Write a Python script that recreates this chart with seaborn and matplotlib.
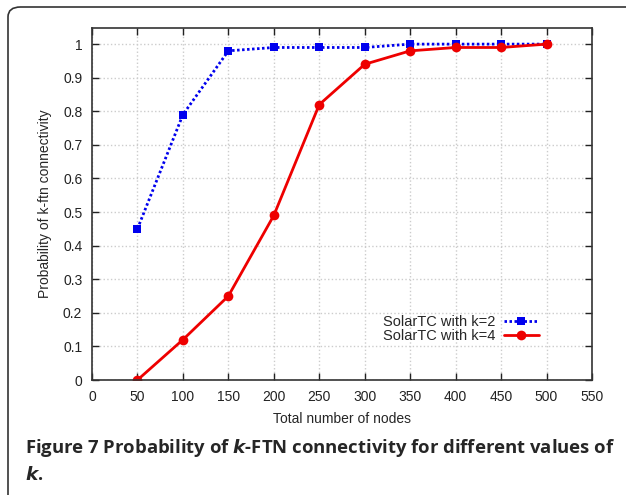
import numpy as np
import pandas as pd
import matplotlib
matplotlib.use("Agg")
import matplotlib.pyplot as plt
import seaborn as sns
from matplotlib.patches import FancyBboxPatch

# data
nodes = [50, 100, 150, 200, 250, 300, 350, 400, 450, 500]
prob_k2 = [0.45, 0.79, 0.98, 0.99, 0.99, 0.99, 1.0, 1.0, 1.0, 1.0]
prob_k4 = [0.0, 0.12, 0.25, 0.49, 0.82, 0.94, 0.98, 0.99, 0.99, 1.0]
labels = ["SolarTC with k=2", "SolarTC with k=4"]

sns.set_style("ticks")
plt.rcParams['font.family'] = ['Liberation Sans', 'DejaVu Sans']

fig = plt.figure(figsize=(6.26, 4.95), dpi=100)

# rounded frame around figure (cut by right/bottom edges)
frame = FancyBboxPatch((8 / 626, -0.2), 1.2, 1.0 + 0.2 - 7 / 495,
                       boxstyle="round,pad=0,rounding_size=0.02",
                       transform=fig.transFigure, fill=False,
                       edgecolor="#333333", linewidth=1.2, clip_on=False)
fig.patches.append(frame)

ax = fig.add_axes([92 / 626, 1 - 380 / 495, 500 / 626, 352 / 495])

df = pd.DataFrame({"nodes": nodes, "k2": prob_k2, "k4": prob_k4})
sns.lineplot(data=df, x="nodes", y="k2", ax=ax, color="#0000ee",
             linestyle=(0, (0.9, 0.9)), linewidth=2.0, marker="s",
             markersize=6, markeredgewidth=0, label=labels[0])
sns.lineplot(data=df, x="nodes", y="k4", ax=ax, color="#ee0000", linestyle="-",
             linewidth=2, marker="o", markersize=7, markeredgewidth=0,
             label=labels[1])

ax.set_xlim(0, 550)
ax.set_ylim(0, 1.048)
ax.set_xticks(np.arange(0, 551, 50))
ax.set_yticks(np.arange(0, 1.01, 0.1))
ax.set_yticklabels(["0", "0.1", "0.2", "0.3", "0.4", "0.5", "0.6", "0.7", "0.8", "0.9", "1"])
ax.tick_params(direction="in", top=True, right=True, length=5, width=1,
               labelsize=10, colors="#222222", pad=7)
ax.grid(True, color="#cccccc", linestyle=":", linewidth=1)
for s in ax.spines.values():
    s.set_color("#333333")
    s.set_linewidth(1.2)
ax.set_xlabel("Total number of nodes", fontsize=10, labelpad=6)
ax.set_ylabel("Probability of k-ftn connectivity", fontsize=10, labelpad=8)

leg = ax.legend(loc="upper right", bbox_to_anchor=(0.905, 0.20), frameon=False,
                markerfirst=False, fontsize=10.5, handlelength=2.4,
                labelspacing=-0.05, borderaxespad=0, handletextpad=0.6)

# caption
cap_font = ['Open Sans', 'DejaVu Sans']
fig.text(25 / 626, 1 - 448 / 495,
         r"Figure 7 Probability of $\bfit{k}$-FTN connectivity for different values of",
         fontsize=13.3, fontweight="bold", family=cap_font, va="center", ha="left")
fig.text(25 / 626, 1 - 475 / 495, r"$\bfit{k}$.",
         fontsize=13.3, fontweight="bold", family=cap_font, va="center", ha="left")

fig.savefig("out.png", dpi=100)
